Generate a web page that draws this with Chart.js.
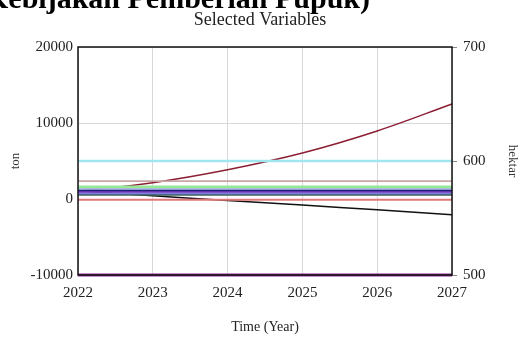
<!DOCTYPE html>
<html>
<head>
<meta charset="utf-8">
<script src="https://cdn.jsdelivr.net/npm/chart.js@4/dist/chart.umd.min.js"></script>
<style>
  html, body { margin: 0; padding: 0; background: #fff; overflow: hidden; }
  #wrap { position: relative; width: 520px; height: 341px; overflow: hidden; }
  #heading {
    position: absolute; left: -25px; top: -17px; white-space: nowrap;
    font: bold 30px/30px "Liberation Serif", "Times New Roman", serif; color: #000;
  }
</style>
</head>
<body>
<div id="wrap">
  <canvas id="chart" width="520" height="341"></canvas>
  <div id="heading">(Kebijakan Pemberian Pupuk)</div>
</div>
<script>
/* ---- Data ---- */
const years       = [2022, 2023, 2024, 2025, 2026, 2027];
const tonTicks    = [-10000, 0, 10000, 20000];
const hektarTicks = [500, 600, 700];

const growing     = [1000, 2150, 3850, 6050, 8950, 12500];
const declining   = [1050, 430, -200, -800, -1420, -2070];
const cyanLevel   = [5000, 5000, 5000, 5000, 5000, 5000];
const roseLevel   = [2350, 2350, 2350, 2350, 2350, 2350];
const greenLevel  = [1600, 1600, 1600, 1600, 1600, 1600];
const paleLevel   = [1350, 1350, 1350, 1350, 1350, 1350];
const navyLevel   = [1150, 1150, 1150, 1150, 1150, 1150];
const violetLevel = [950, 950, 950, 950, 950, 950];
const blueLevel   = [750, 750, 750, 750, 750, 750];
const slateLevel  = [550, 550, 550, 550, 550, 550];
const redLevel    = [-100, -100, -100, -100, -100, -100];
const hektarLine  = [500, 500, 500, 500, 500, 500];

const serif = '"Liberation Serif", "Times New Roman", serif';

function pts(values) {
  return years.map((x, i) => ({ x, y: values[i] }));
}

function series(label, values, color, width, axis = 'y') {
  return {
    label, data: pts(values), borderColor: color, backgroundColor: color,
    borderWidth: width, pointRadius: 0, yAxisID: axis, tension: 0.35, clip: 4,
  };
}

/* frame round the plot area */
const frame = {
  id: 'frame',
  afterDatasetsDraw(chart) {
    const { ctx, chartArea: a } = chart;
    ctx.save();
    ctx.strokeStyle = '#111';
    ctx.lineWidth = 1.5;
    ctx.strokeRect(a.left, a.top, a.right - a.left, a.bottom - a.top);
    ctx.restore();
  },
};

new Chart(document.getElementById('chart'), {
  type: 'line',
  data: {
    datasets: [
      series('hektar', hektarLine, '#8a2a92', 3, 'y2'),
      series('cyan', cyanLevel, '#9fe6ee', 2.5),
      series('rose', roseLevel, '#c9a7a7', 1.8),
      series('green', greenLevel, '#96e896', 2.5),
      series('pale', paleLevel, '#a9b9df', 2),
      series('navy', navyLevel, '#1c1c78', 2.2),
      series('violet', violetLevel, '#7a3cc0', 2),
      series('blue', blueLevel, '#7e7ee0', 2),
      series('slate', slateLevel, '#3d6060', 2),
      series('red', redLevel, '#e07a7a', 2),
      series('declining', declining, '#111111', 1.5),
      series('growing', growing, '#8c1f34', 1.5),
    ],
  },
  options: {
    responsive: false,
    animation: false,
    layout: { padding: 0 },
    plugins: {
      legend: { display: false },
      tooltip: { enabled: false },
      title: {
        display: true,
        text: 'Selected Variables',
        color: '#222',
        font: { family: serif, size: 18, weight: 'normal' },
        padding: { top: 9, bottom: 16.4 },
      },
    },
    scales: {
      x: {
        type: 'linear', min: years[0], max: years[years.length - 1],
        afterBuildTicks: s => { s.ticks = years.map(v => ({ value: v })); },
        afterFit: s => { s.height = 66; },
        ticks: { color: '#222', padding: 9, font: { family: serif, size: 15 }, callback: v => String(v) },
        grid: { color: '#d8d8d8', drawTicks: false },
        border: { display: false },
        title: { display: true, text: 'Time (Year)', color: '#222', padding: { top: 0, bottom: 5 },
                 font: { family: serif, size: 14 } },
      },
      y: {
        position: 'left', min: -10000, max: 20000,
        afterBuildTicks: s => { s.ticks = tonTicks.map(v => ({ value: v })); },
        afterFit: s => { s.width = 78; },
        ticks: { color: '#222', padding: 5, font: { family: serif, size: 15 }, callback: v => String(v) },
        grid: { color: '#d8d8d8', drawTicks: false },
        border: { display: false },
        title: { display: true, text: 'ton', color: '#333', padding: { top: 8, bottom: 0 },
                 font: { family: serif, size: 13 } },
      },
      y2: {
        position: 'right', min: 500, max: 700,
        afterBuildTicks: s => { s.ticks = hektarTicks.map(v => ({ value: v })); },
        afterFit: s => { s.width = 68; },
        ticks: { color: '#222', padding: 6, font: { family: serif, size: 15 } },
        grid: { display: true, drawOnChartArea: false, tickLength: 5, color: '#888' },
        border: { display: false },
        title: { display: true, text: 'hektar', color: '#333', padding: { top: 0, bottom: -1 },
                 font: { family: serif, size: 13 } },
      },
    },
  },
  plugins: [frame],
});
</script>
</body>
</html>
